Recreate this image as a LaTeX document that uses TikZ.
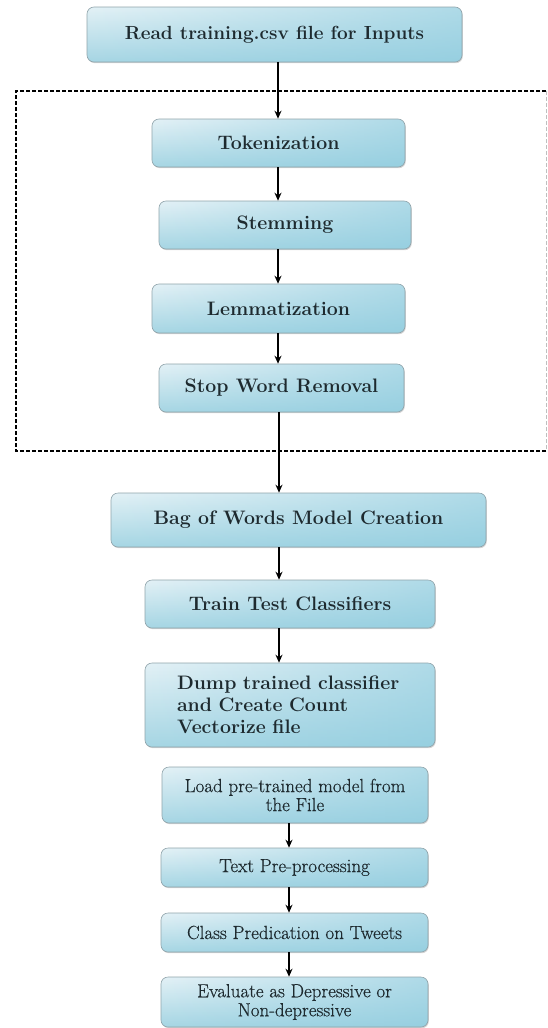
\documentclass[tikz,border=0pt]{standalone}
\usepackage{fontspec}
\newfontfamily\heavyplain{Latin Modern Roman}[FakeBold=0.5]
\usetikzlibrary{arrows.meta,shadows,fadings}
\definecolor{boxtop}{HTML}{E3F1F6}
\definecolor{boxbot}{HTML}{A6D6E4}
\definecolor{boxright}{HTML}{8CCBDE}
\definecolor{boxedge}{HTML}{8FA3AA}
\definecolor{txt}{HTML}{1E2A2F}
\tikzfading[name=rightdark, left color=transparent!100, right color=transparent!40]
\tikzset{
  flowbox/.style={rectangle, rounded corners=7pt, top color=boxtop, bottom color=boxbot,
    draw=boxedge, line width=0.6pt, text=txt, inner sep=0pt,
    drop shadow={shadow xshift=0.8pt, shadow yshift=-1.2pt, opacity=0.35},
    path picture={\fill[boxright, path fading=rightdark]
      (path picture bounding box.south west) rectangle (path picture bounding box.north east);}},
  boldtxt/.style={font=\bfseries\fontsize{19.5}{22}\selectfont},
  plaintxt/.style={font=\heavyplain\fontsize{19}{19}\selectfont},
  flowarrow/.style={-{Stealth[length=8pt,width=7pt]}, line width=1.8pt, black},
  groupframe/.style={dash pattern=on 4pt off 2pt, line width=1.5pt},
}
\begin{document}
\begin{tikzpicture}[x=1pt,y=-1pt]
\useasboundingbox (0,0) rectangle (548,1028);
% dashed group frame
\draw[groupframe] (546,91) -- (16,91) -- (16,451) -- (546,451);
\draw[groupframe, black!25, line width=1pt] (546,91) -- (546,451);
% boxes
\node[flowbox, font=\bfseries\fontsize{19}{22}\selectfont, text=txt, minimum width=375pt, minimum height=55pt] (read) at (274.5,34.5) {Read training.csv file for Inputs};
\node[flowbox, boldtxt, minimum width=253pt, minimum height=48pt] (tok) at (278.5,143) {Tokenization};
\node[flowbox, boldtxt, minimum width=252pt, minimum height=48pt] (stem) at (285,225) {Stemming};
\node[flowbox, boldtxt, minimum width=253pt, minimum height=49pt] (lem) at (278.5,308.5) {Lemmatization};
\node[flowbox, boldtxt, minimum width=245pt, minimum height=48pt] (stop) at (281.5,388) {Stop Word Removal};
\node[flowbox, boldtxt, minimum width=375pt, minimum height=54pt] (bow) at (298.5,520) {Bag of Words Model Creation};
\node[flowbox, boldtxt, minimum width=290pt, minimum height=48pt] (train) at (290,604) {Train Test Classifiers};
\node[flowbox, boldtxt, minimum width=290pt, minimum height=84pt, text width=226pt, inner xsep=32pt, align=left] (dump) at (290,705) {Dump trained classifier\\and Create Count\\Vectorize file};
\node[flowbox, plaintxt, minimum width=266pt, minimum height=56pt, align=center] (load) at (295,795) {Load pre-trained model from\\the File};
\node[flowbox, plaintxt, minimum width=267pt, minimum height=39pt] (textpp) at (294.5,867.5) {Text Pre-processing};
\node[flowbox, plaintxt, minimum width=267pt, minimum height=39pt] (classp) at (294.5,932.5) {Class Predication on Tweets};
\node[flowbox, plaintxt, minimum width=267pt, minimum height=50pt, align=center] (eval) at (294.5,1002) {Evaluate as Depressive or\\Non-depressive};
% arrow columns
\coordinate (ca) at (278,0);
\coordinate (cb) at (279,0);
\coordinate (cc) at (289,0);
\draw[flowarrow] (read.south -| ca) -- (tok.north -| ca);
\draw[flowarrow] (tok.south -| ca) -- (stem.north -| ca);
\draw[flowarrow] (stem.south -| ca) -- (lem.north -| ca);
\draw[flowarrow] (lem.south -| ca) -- (stop.north -| ca);
\draw[flowarrow] (stop.south -| cb) -- (bow.north -| cb);
\draw[flowarrow] (bow.south -| cb) -- (train.north -| cb);
\draw[flowarrow] (train.south -| cb) -- (dump.north -| cb);
\draw[flowarrow] (load.south -| cc) -- (textpp.north -| cc);
\draw[flowarrow] (textpp.south -| cc) -- (classp.north -| cc);
\draw[flowarrow] (classp.south -| cc) -- (eval.north -| cc);
\end{tikzpicture}
\end{document}
